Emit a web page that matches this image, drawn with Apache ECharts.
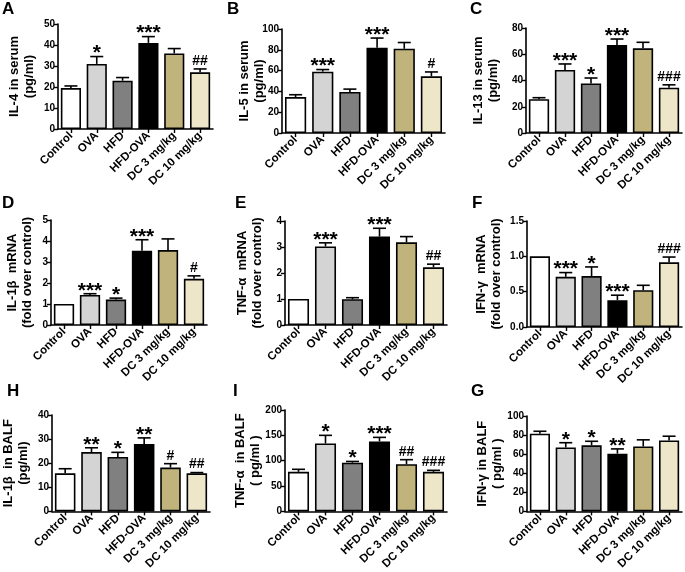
<!DOCTYPE html>
<html><head><meta charset="utf-8">
<script src="https://cdn.jsdelivr.net/npm/echarts@6/dist/echarts.min.js"></script>
<style>html,body{margin:0;padding:0;background:#fff}#c{width:685px;height:572px}</style>
</head><body><div id="c"></div>
<script>
const categories = ['Control', 'OVA', 'HFD', 'HFD-OVA', 'DC 3 mg/kg', 'DC 10 mg/kg'];
const barColors = ['#ffffff', '#d4d4d4', '#808080', '#000000', '#c0b47c', '#eee6c8'];

// A: IL-4 in serum
const il4Serum = [19.5, 31, 23, 41, 36, 27];
const il4SerumErr = [1.0, 3.5, 1.5, 3.0, 2.3, 1.6];
const il4SerumSig = ['', '*', '', '***', '', '##'];
// B: IL-5 in serum
const il5Serum = [34.5, 59, 39.5, 82, 81, 54.5];
const il5SerumErr = [2.3, 2.0, 2.7, 9.3, 6.0, 4.2];
const il5SerumSig = ['', '***', '', '***', '', '#'];
// C: IL-13 in serum
const il13Serum = [25.7, 48, 37.8, 67, 64.5, 34.5];
const il13SerumErr = [1.2, 4.6, 4.1, 4.6, 4.6, 2.2];
const il13SerumSig = ['', '***', '*', '***', '', '###'];
// D: IL-1beta mRNA
const il1bMrna = [1.0, 1.43, 1.21, 3.53, 3.57, 2.2];
const il1bMrnaErr = [0, 0.06, 0.07, 0.53, 0.53, 0.14];
const il1bMrnaSig = ['', '***', '*', '***', '', '#'];
// E: TNF-alpha mRNA
const tnfMrna = [1.0, 3.02, 0.99, 3.4, 3.18, 2.22];
const tnfMrnaErr = [0, 0.14, 0.06, 0.32, 0.22, 0.12];
const tnfMrnaSig = ['', '***', '', '***', '', '##'];
// F: IFN-gamma mRNA
const ifnMrna = [1.0, 0.71, 0.72, 0.38, 0.52, 0.915];
const ifnMrnaErr = [0, 0.06, 0.13, 0.07, 0.07, 0.075];
const ifnMrnaSig = ['', '***', '*', '***', '', '###'];
// H: IL-1beta in BALF
const il1bBalf = [15.8, 24.6, 22.6, 28, 18.2, 15.8];
const il1bBalfErr = [1.9, 1.8, 1.9, 2.5, 1.6, 0.3];
const il1bBalfSig = ['', '**', '*', '**', '#', '##'];
// I: TNF-alpha in BALF
const tnfBalf = [78, 134, 96, 138, 93, 78];
const tnfBalfErr = [5, 16, 2.5, 8, 9, 3];
const tnfBalfSig = ['', '*', '*', '***', '##', '###'];
// G: IFN-gamma in BALF
const ifnBalf = [81.5, 67, 69.3, 60.5, 68, 74.4];
const ifnBalfErr = [2.5, 5, 4.2, 5, 7, 4.4];
const ifnBalfSig = ['', '*', '*', '**', '', ''];

const FONT = 'Liberation Sans, Arial, sans-serif';

const panels = [
  {letter: 'A', lx: 2, ly: 1, title: 'IL-4 in serum\n(pg/ml)', v: il4Serum, e: il4SerumErr, s: il4SerumSig, max: 50, interval: 10, dec: 0, grid: {left: 58, top: 24, width: 155, height: 105}, gap: 21},
  {letter: 'B', lx: 227, ly: 1, title: 'IL-5 in serum\n(pg/ml)', v: il5Serum, e: il5SerumErr, s: il5SerumSig, max: 100, interval: 20, dec: 0, grid: {left: 282, top: 29, width: 163, height: 104}, gap: 15},
  {letter: 'C', lx: 470, ly: 1, title: 'IL-13 in serum\n(pg/ml)', v: il13Serum, e: il13SerumErr, s: il13SerumSig, max: 80, interval: 20, dec: 0, grid: {left: 526, top: 28, width: 156, height: 105}, gap: 25},
  {letter: 'D', lx: 2, ly: 195, title: 'IL-1\u03b2  mRNA\n(fold over control)', v: il1bMrna, e: il1bMrnaErr, s: il1bMrnaSig, max: 5, interval: 1, dec: 0, grid: {left: 51, top: 220, width: 156, height: 105}, gap: 16},
  {letter: 'E', lx: 235, ly: 195, title: 'TNF-\u03b1  mRNA\n(fold over control)', v: tnfMrna, e: tnfMrnaErr, s: tnfMrnaSig, max: 4, interval: 1, dec: 0, grid: {left: 285, top: 221, width: 162, height: 104}, gap: 20},
  {letter: 'F', lx: 472, ly: 195, title: 'IFN-\u03b3  mRNA\n(fold over control)', v: ifnMrna, e: ifnMrnaErr, s: ifnMrnaSig, max: 1.5, interval: 0.5, dec: 1, grid: {left: 527, top: 221, width: 155, height: 106}, gap: 23},
  {letter: 'H', lx: 7, ly: 383, title: 'IL-1\u03b2  in BALF\n(pg/ml)', v: il1bBalf, e: il1bBalfErr, s: il1bBalfSig, max: 40, interval: 10, dec: 0, grid: {left: 49, top: 415, width: 161, height: 106}, gap: 21},
  {letter: 'I', lx: 233, ly: 383, title: 'TNF-\u03b1  in BALF\n( pg/ml )', v: tnfBalf, e: tnfBalfErr, s: tnfBalfSig, max: 200, interval: 50, dec: 0, grid: {left: 285, top: 410, width: 162, height: 109}, gap: 22},
  {letter: 'G', lx: 471, ly: 383, title: 'IFN-\u03b3 in BALF\n( pg/ml )', v: ifnBalf, e: ifnBalfErr, s: ifnBalfSig, max: 100, interval: 20, dec: 0, grid: {left: 527, top: 416, width: 155, height: 104}, gap: 22}
];

function makeRender(sig) {
  return function (params, api) {
    const i = api.value(0), v = api.value(1), e = api.value(2);
    const p0 = api.coord([i, v]);
    const p1 = api.coord([i, v + e]);
    const half = 6.5;
    const children = [];
    if (e > 0) {
      children.push({type: 'line', shape: {x1: p0[0], y1: p0[1], x2: p1[0], y2: p1[1]}, style: {stroke: '#000', lineWidth: 1.6}});
      children.push({type: 'line', shape: {x1: p1[0] - half, y1: p1[1], x2: p1[0] + half, y2: p1[1]}, style: {stroke: '#000', lineWidth: 1.6}});
    }
    const s = sig[params.dataIndex];
    if (s) {
      const star = s[0] === '*';
      children.push({type: 'text', x: p1[0], y: star ? p1[1] - 3 : p1[1] - 8,
        style: {text: s, fill: '#000', align: 'center', verticalAlign: 'middle',
          font: star ? 'bold 21px ' + FONT : 'bold 14px ' + FONT}});
    }
    return {type: 'group', children};
  };
}

const option = {
  backgroundColor: '#fff',
  animation: false,
  title: panels.map(p => ({text: p.letter, left: p.lx, top: p.ly, padding: 0,
    textStyle: {fontFamily: FONT, fontWeight: 'bold', fontSize: 17, color: '#000'}})),
  grid: panels.map(p => Object.assign({containLabel: false}, p.grid)),
  xAxis: panels.map((p, k) => ({
    type: 'category', gridIndex: k, data: categories,
    axisLine: {show: true, lineStyle: {color: '#000', width: 1.6}},
    axisTick: {show: true, alignWithLabel: true, length: 4, lineStyle: {color: '#000', width: 1.4}},
    axisLabel: {rotate: 45, margin: 5, interval: 0, color: '#000', fontFamily: FONT, fontWeight: 'bold', fontSize: 11.5},
    splitLine: {show: false}
  })),
  yAxis: panels.map((p, k) => ({
    type: 'value', gridIndex: k, min: 0, max: p.max, interval: p.interval,
    name: p.title, nameLocation: 'middle', nameRotate: 90, nameGap: p.gap, nameMoveOverlap: false,
    nameTextStyle: {fontFamily: FONT, fontWeight: 'bold', fontSize: 13, lineHeight: 15, color: '#000', align: 'center'},
    axisLine: {show: true, lineStyle: {color: '#000', width: 1.6}},
    axisTick: {show: true, length: 4, lineStyle: {color: '#000', width: 1.4}},
    axisLabel: {margin: 3, color: '#000', fontFamily: FONT, fontWeight: 'bold', fontSize: 10,
      formatter: val => val.toFixed(p.dec)},
    splitLine: {show: false}
  })),
  series: []
};

panels.forEach((p, k) => {
  option.series.push({
    type: 'bar', xAxisIndex: k, yAxisIndex: k, barCategoryGap: '22%',
    data: p.v.map((val, i) => ({value: val, itemStyle: {color: barColors[i]}})),
    itemStyle: {borderColor: '#000', borderWidth: 1.6},
    z: 2
  });
  option.series.push({
    type: 'custom', xAxisIndex: k, yAxisIndex: k, z: 3,
    renderItem: makeRender(p.s),
    data: p.v.map((val, i) => [i, val, p.e[i]])
  });
});

const chart = echarts.init(document.getElementById('c'), null, {renderer: 'canvas'});
chart.setOption(option);
</script>
</body></html>
